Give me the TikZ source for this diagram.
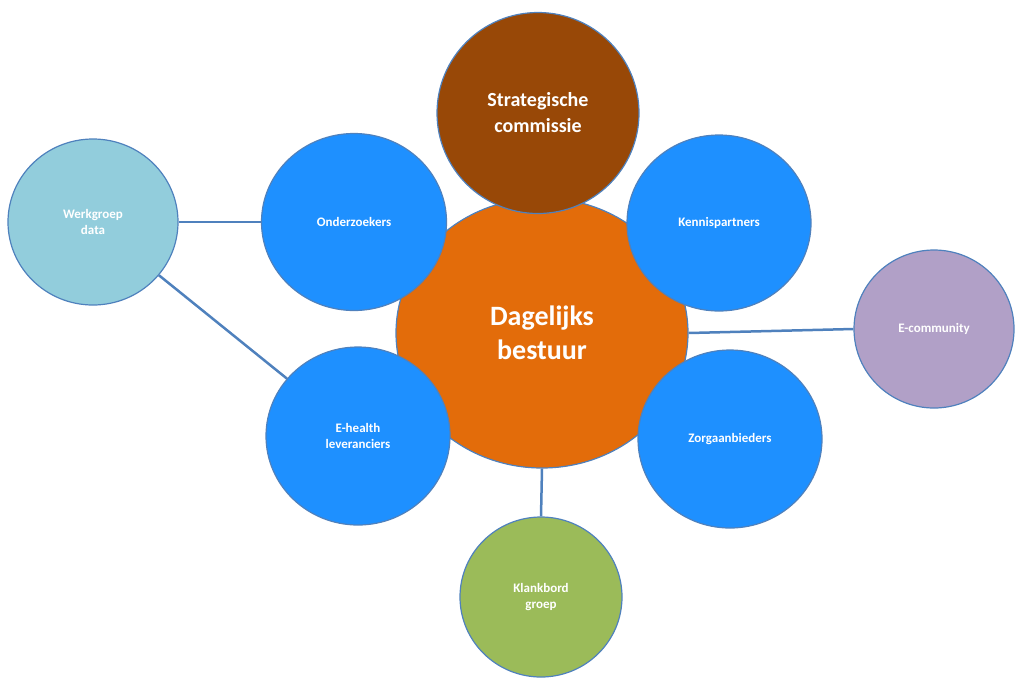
\documentclass[tikz,border=0pt]{standalone}
\usepackage{fontspec}
\setmainfont{Carlito}
\usetikzlibrary{shapes.geometric,backgrounds}
\definecolor{edge}{HTML}{4F81BD}
\definecolor{cOr}{HTML}{E36C0A}
\definecolor{cBr}{HTML}{984807}
\definecolor{cBl}{HTML}{1E90FF}
\definecolor{cLb}{HTML}{92CDDC}
\definecolor{cPu}{HTML}{B1A0C7}
\definecolor{cGr}{HTML}{9BBB59}
\begin{document}
\begin{tikzpicture}[x=1pt,y=-1pt,
  bub/.style={ellipse,draw=edge,line width=1.2pt,text=white,font=\bfseries\fontsize{13}{16}\selectfont,align=center,inner sep=0pt},
  link/.style={draw=edge,line width=2.5pt}]
\useasboundingbox (0,0) rectangle (1024,686);
\node[bub,fill=cOr,minimum width=292pt,minimum height=270pt,font=\bfseries\fontsize{28}{34}\selectfont] (db) at (542,333) {Dagelijks\\bestuur};
\node[bub,fill=cLb,minimum width=170pt,minimum height=166pt] (wd) at (93,222) {Werkgroep\\data};
\node[bub,fill=cPu,minimum width=160pt,minimum height=158pt] (ec) at (934,329) {E-community};
\node[bub,fill=cGr,minimum width=162pt,minimum height=160pt] (kb) at (541,597) {Klankbord\\groep};
\node[bub,fill=cBl,minimum width=185pt,minimum height=177pt] (oz) at (354,222) {Onderzoekers};
\node[bub,fill=cBl,minimum width=184pt,minimum height=176pt] (kp) at (719,223) {Kennispartners};
\node[bub,fill=cBl,minimum width=184pt,minimum height=178pt] (eh) at (358,436) {E-health\\leveranciers};
\node[bub,fill=cBl,minimum width=184pt,minimum height=178pt] (za) at (730,439) {Zorgaanbieders};
\node[bub,fill=cBr,minimum width=202pt,minimum height=201pt,font=\bfseries\fontsize{20}{26}\selectfont] (sc) at (538,113) {Strategische\\commissie};
\begin{scope}[on background layer]
\path[link] (wd.east) -- (oz.west);
\path[link] (wd) -- (eh);
\path[link] (db.east) -- (ec.west);
\path[link] (db.south) -- (kb.north);
\end{scope}
\end{tikzpicture}
\end{document}
